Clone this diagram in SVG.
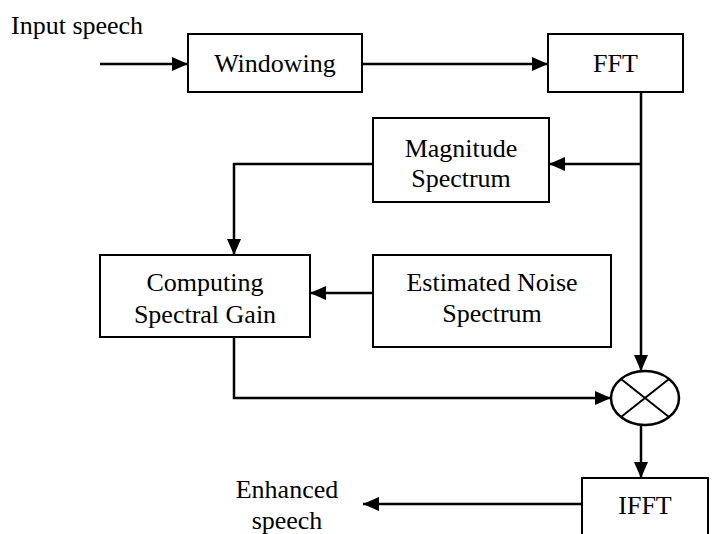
<svg xmlns="http://www.w3.org/2000/svg" width="716" height="534" viewBox="0 0 716 534">
  <defs>
    <marker id="arrow" markerUnits="userSpaceOnUse" markerWidth="16" markerHeight="14" refX="16" refY="7" orient="auto">
      <path d="M0,0 L16,7 L0,14 Z" fill="#000"/>
    </marker>
    <style>
      .box { fill: #fff; stroke: #000; stroke-width: 2; }
      .lbl { font-family: "Liberation Serif", "Times New Roman", serif; font-size: 26px; fill: #000; text-anchor: middle; }
      .free { font-family: "Liberation Serif", "Times New Roman", serif; font-size: 26px; fill: #000; }
      .wire { fill: none; stroke: #000; stroke-width: 2.5; }
      .arr { marker-end: url(#arrow); }
    </style>
  </defs>
  <rect width="716" height="534" fill="#fff"/>

  <!-- signal flow -->
  <g id="connectors">
    <path class="wire arr" d="M100,64 H188"/>
    <path class="wire arr" d="M362,64 H548"/>
    <path class="wire arr" d="M641,92 V371"/>
    <path class="wire arr" d="M641,164 H549"/>
    <path class="wire arr" d="M373,164 H234 V255"/>
    <path class="wire arr" d="M373,293 H310"/>
    <path class="wire arr" d="M234,337 V398 H611"/>
    <path class="wire arr" d="M641,425 V478"/>
    <path class="wire arr" d="M582,504 H363"/>
  </g>

  <g id="input-label">
    <text class="free" x="11" y="34">Input speech</text>
  </g>

  <g id="windowing">
    <rect class="box" x="188" y="34" width="174" height="58"/>
    <text class="lbl" x="275" y="72">Windowing</text>
  </g>

  <g id="fft">
    <rect class="box" x="548" y="34" width="135" height="58"/>
    <text class="lbl" x="615.5" y="72">FFT</text>
  </g>

  <g id="magnitude">
    <rect class="box" x="373" y="118" width="176" height="84"/>
    <text class="lbl" x="461" y="157">Magnitude</text>
    <text class="lbl" x="461" y="187">Spectrum</text>
  </g>

  <g id="gain">
    <rect class="box" x="100" y="255" width="210" height="82"/>
    <text class="lbl" x="205" y="291">Computing</text>
    <text class="lbl" x="205" y="323">Spectral Gain</text>
  </g>

  <g id="noise">
    <rect class="box" x="373" y="255" width="238" height="92"/>
    <text class="lbl" x="492" y="291">Estimated Noise</text>
    <text class="lbl" x="492" y="322">Spectrum</text>
  </g>

  <g id="multiplier">
    <ellipse cx="645" cy="398" rx="34" ry="27" fill="#fff" stroke="#000" stroke-width="2.5"/>
    <path d="M621,379 L669,417 M669,379 L621,417" stroke="#000" stroke-width="2" fill="none"/>
  </g>

  <g id="ifft">
    <rect class="box" x="582" y="478" width="126" height="70"/>
    <text class="lbl" x="645" y="514">IFFT</text>
  </g>

  <g id="output-label">
    <text class="lbl" x="287" y="498">Enhanced</text>
    <text class="lbl" x="287" y="529">speech</text>
  </g>
</svg>
